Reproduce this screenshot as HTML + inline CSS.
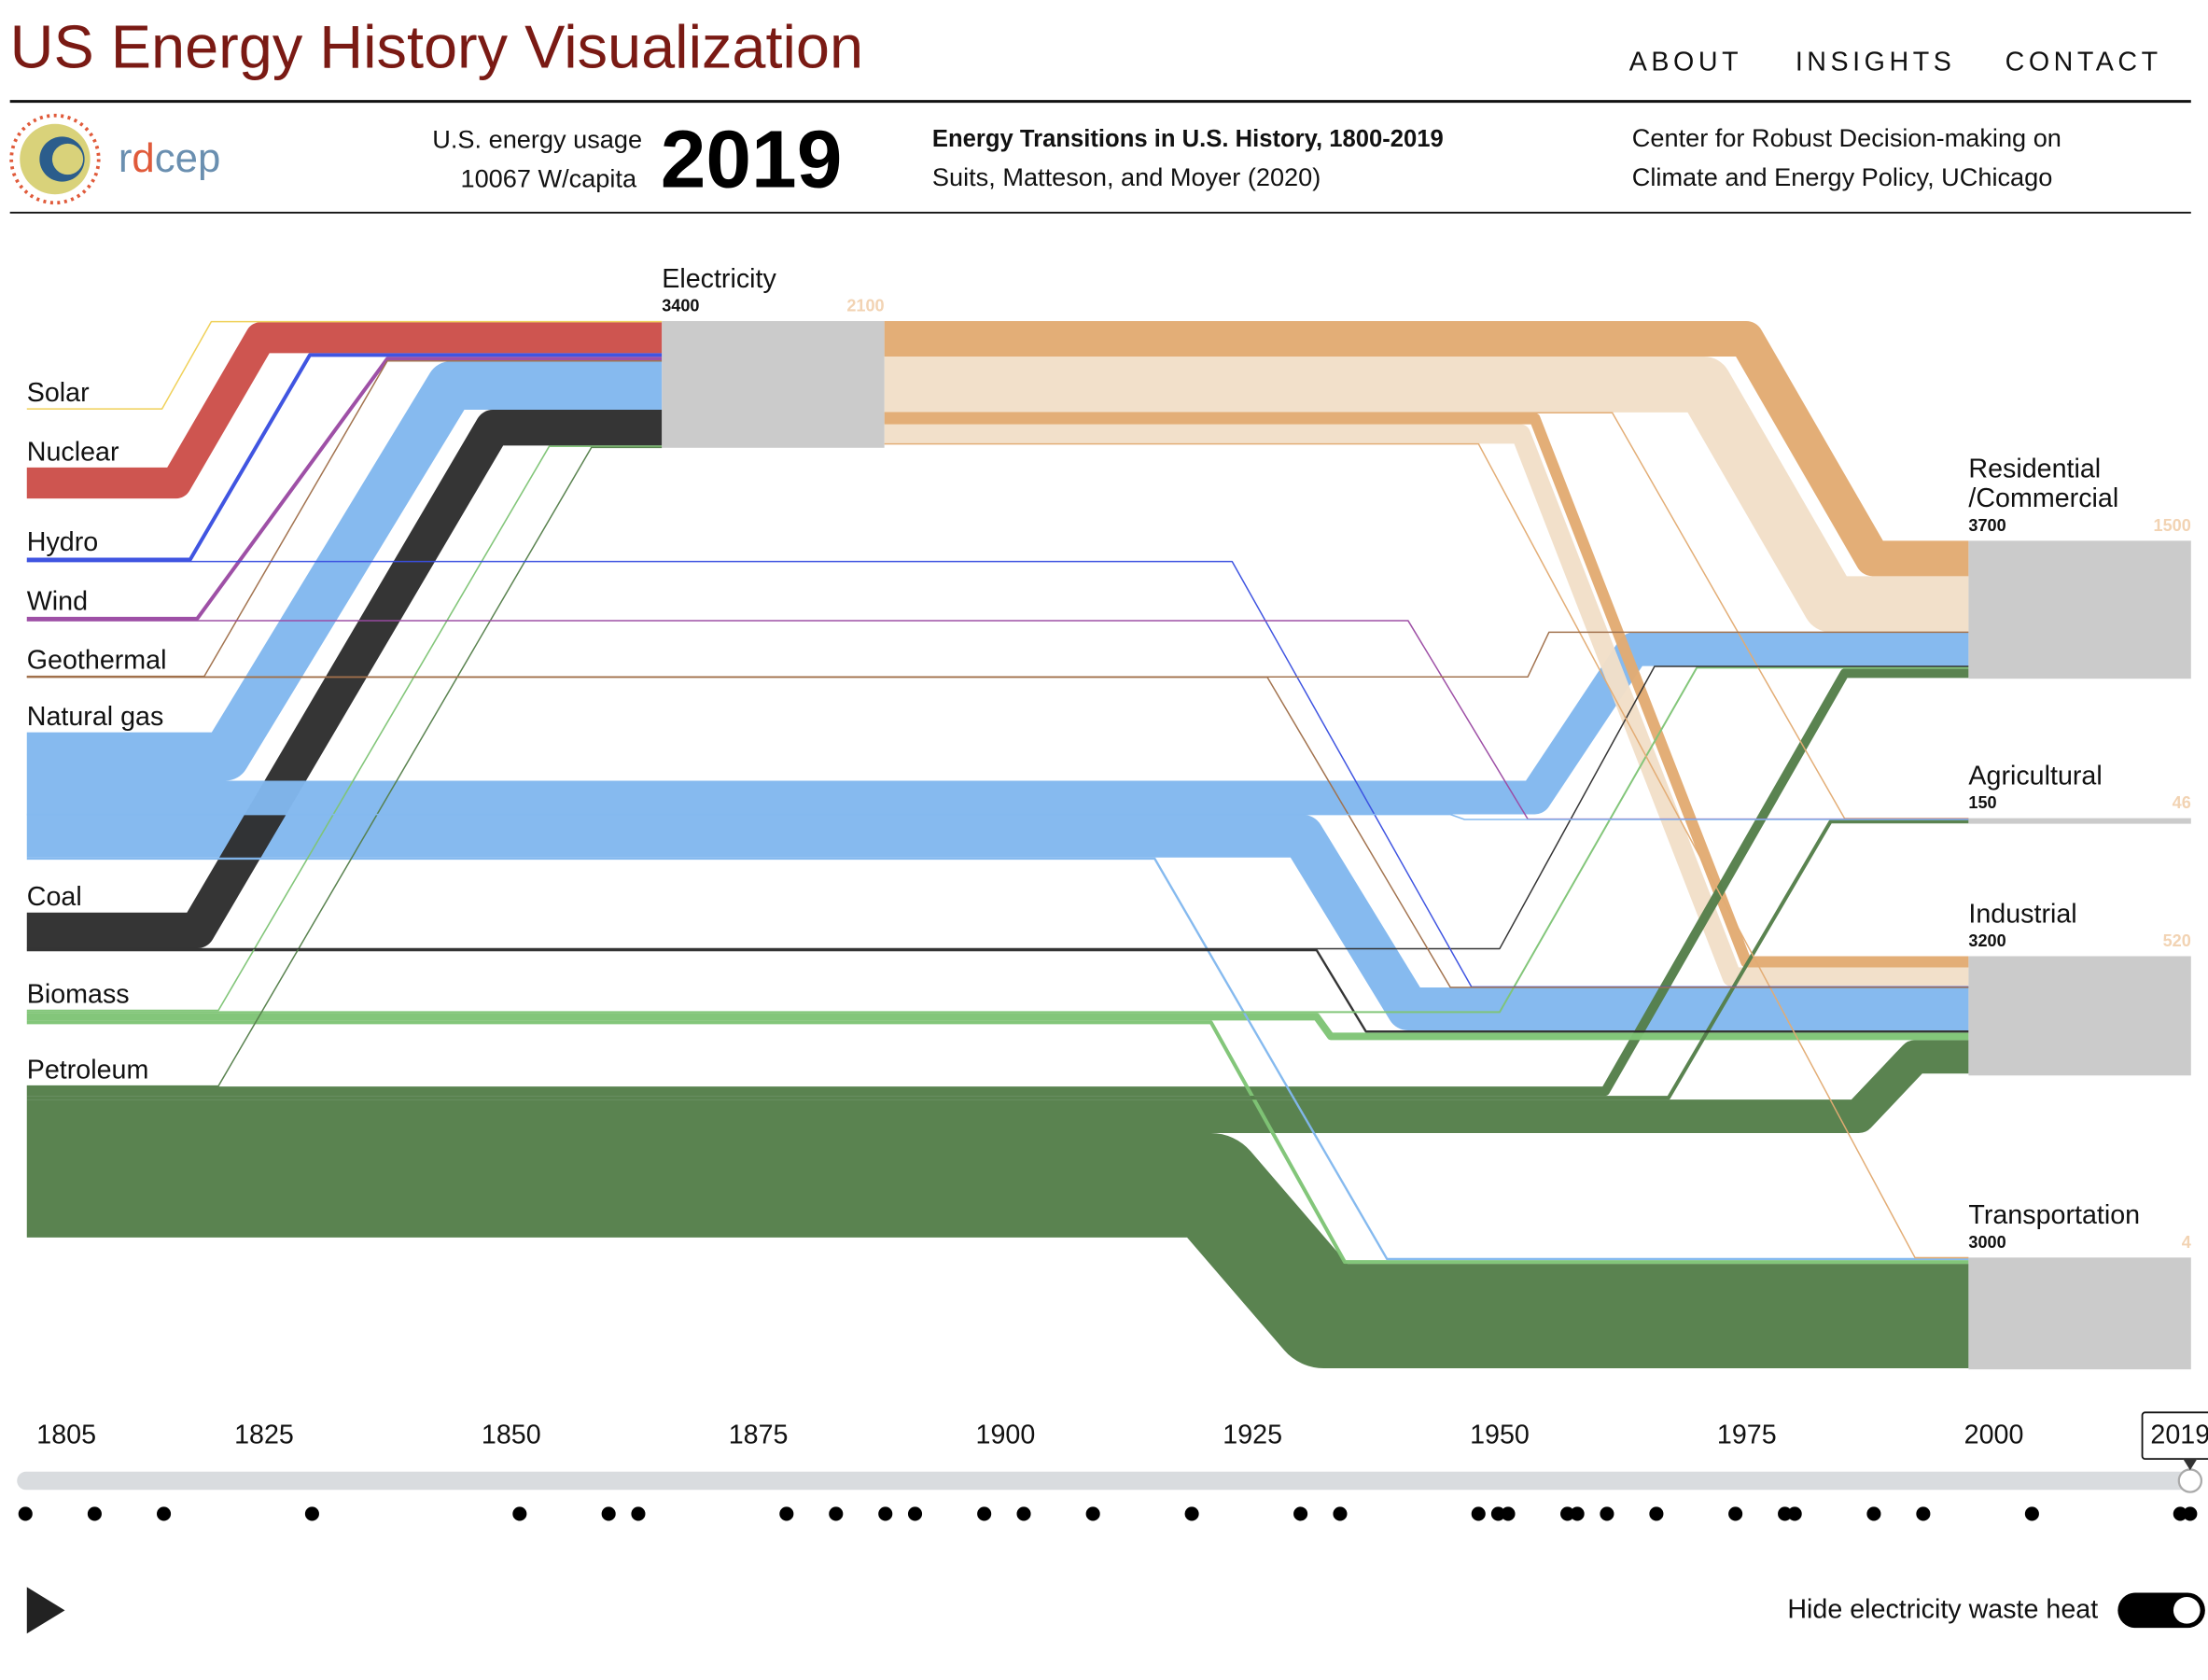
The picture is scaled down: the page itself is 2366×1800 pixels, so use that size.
<!DOCTYPE html>
<html><head><meta charset="utf-8"><style>
html,body{margin:0;padding:0;background:#fff;}
svg{display:block;font-family:"Liberation Sans",sans-serif;}
</style></head><body>
<svg id="chart" width="2366" height="1800" viewBox="0 0 1568 1193" xmlns="http://www.w3.org/2000/svg">
<g>
<text x="7" y="48" font-size="43" fill="#7a1a14">US Energy History Visualization</text>
<text x="1157" y="50" font-size="19" letter-spacing="3" fill="#111">ABOUT</text>
<text x="1275" y="50" font-size="19" letter-spacing="3" fill="#111">INSIGHTS</text>
<text x="1424" y="50" font-size="19" letter-spacing="3" fill="#111">CONTACT</text>
<line x1="7" y1="72" x2="1556" y2="72" stroke="#111" stroke-width="2"/>
<line x1="7" y1="151" x2="1556" y2="151" stroke="#111" stroke-width="1.2"/>
<g>
<circle cx="39" cy="113" r="31" fill="none" stroke="#e05a3a" stroke-width="2.5" stroke-dasharray="2 3"/>
<circle cx="39" cy="113" r="25" fill="#d9d27a"/>
<circle cx="44" cy="113" r="16" fill="#2b5d8c"/>
<circle cx="48" cy="113" r="11" fill="#d9d27a"/>
<text x="84" y="122" font-size="29" fill="#6a8fb0">r<tspan fill="#e05a3a">d</tspan>cep</text>
</g>
<text x="456" y="105" font-size="18" text-anchor="end" fill="#111">U.S. energy usage</text>
<text x="452" y="133" font-size="18" text-anchor="end" fill="#111">10067 W/capita</text>
<text x="469" y="133" font-size="58" font-weight="bold" fill="#000">2019</text>
<text x="662" y="104" font-size="17" font-weight="bold" fill="#111">Energy Transitions in U.S. History, 1800-2019</text>
<text x="662" y="132" font-size="18" fill="#111">Suits, Matteson, and Moyer (2020)</text>
<text x="1159" y="104" font-size="18" fill="#111">Center for Robust Decision-making on</text>
<text x="1159" y="132" font-size="18" fill="#111">Climate and Energy Policy, UChicago</text>
</g>
<g id="flows"></g>
<g id="nodes"></g>
<g id="timeline"></g>
<g>
<path d="M19 1127 L46 1143.5 L19 1160 Z" fill="#222"/>
<text x="1490" y="1149" font-size="19" text-anchor="end" fill="#111">Hide electricity waste heat</text>
<g>
<rect x="1504" y="1131" width="62" height="25" rx="12.5" fill="#000"/>
<circle cx="1553" cy="1143.5" r="9.5" fill="#fff"/>
</g>
</g>
</svg>
<script>
const NS='http://www.w3.org/2000/svg';
// ---- data ----
const sourceNames=['Solar','Nuclear','Hydro','Wind','Geothermal','Natural gas','Coal','Biomass','Petroleum'];
const targetNames=['Residential/Commercial','Agricultural','Industrial','Transportation'];
const targetTotals=[3700,150,3200,3000];
const targetWaste=[1500,46,520,4];
const elecTotal=3400, elecWaste=2100;
// flows: source (0-8 sources, 9 elec useful, 10 elec waste), target ('E',0..3), value
const flowSrc=[0,1,2,3,4,5,6,7,8, 9,10,9,9,10,9, 2,3,4,4,5,5,5,5,6,6,7,7,7,8,8,8,8];
const flowTgt=['E','E','E','E','E','E','E','E','E', 0,0,1,2,2,3, 2,1,0,2,0,1,2,3,0,2,0,2,3,0,1,2,3];
const flowVal=[30,830,100,100,20,1300,960,40,20, 950,1500,20,300,520,10, 10,10,10,10,900,10,1150,60,20,60,50,200,100,250,100,900,2800];
// layout (not data): bend x positions per flow
const bendA=[115,125,135,140,145,160,140,155,155, 1240,1210,1145,1090,1080,1050, 875,1000,1085,900,1090,1030,925,820,1065,935,1065,935,860,1140,1185,1320,860];
const bendB=[150,185,220,275,275,320,350,390,420, 1330,1300,1310,1240,1230,1360, 1045,1085,1100,1030,1160,1040,1000,985,1175,970,1205,945,955,1310,1300,1360,940];
const srcColors=['#f0cf55','#cc504a','#3a4fe0','#9b4aa3','#a0704a','#82b8ee','#2e2e2e','#7fc476','#557f4a','#e2ab73','#f2dfc8'];
const srcTops=[290,332,396,438,480,520,648,717,771];
const tgtTops=[384,581,679,893];
const K=90/elecTotal;
const X0=19,EIN=470,EOUT=628,ETOP=228,TIN=1398,TOUT=1556;

const flowsG=document.getElementById('flows');
const nodesG=document.getElementById('nodes');
function mk(tag,attrs,parent){const e=document.createElementNS(NS,tag);for(const k in attrs)e.setAttribute(k,attrs[k]);parent.appendChild(e);return e;}
const tgtRank=t=>t==='E'?0:t+1;
const srcRank=s=>s>=9?s-20:s;
const outNode=i=>flowSrc[i]>=9?'E':'S'+flowSrc[i];
const inNode=i=>flowTgt[i]==='E'?'E':'T'+flowTgt[i];
const topOf=n=>n==='E'?ETOP:n[0]==='S'?srcTops[+n.slice(1)]:tgtTops[+n.slice(1)];
const idx=flowVal.map((_,i)=>i);
const y0=[],y1=[];
const outOff={},inOff={};
idx.slice().sort((a,b)=>tgtRank(flowTgt[a])-tgtRank(flowTgt[b])||flowSrc[a]-flowSrc[b]).forEach(i=>{
 const n=outNode(i);if(outOff[n]===undefined)outOff[n]=topOf(n);
 const w=flowVal[i]*K;y0[i]=outOff[n]+w/2;outOff[n]+=w;});
idx.slice().sort((a,b)=>srcRank(flowSrc[a])-srcRank(flowSrc[b])).forEach(i=>{
 const n=inNode(i);if(inOff[n]===undefined)inOff[n]=topOf(n);
 const w=flowVal[i]*K;y1[i]=inOff[n]+w/2;inOff[n]+=w;});
idx.slice().sort((a,b)=>flowVal[b]-flowVal[a]).forEach(i=>{
 const xs=flowSrc[i]>=9?EOUT:X0, xe=flowTgt[i]==='E'?EIN:TIN;
 const w=Math.max(flowVal[i]*K,1);
 const p=mk('path',{d:`M${xs} ${y0[i]} H${bendA[i]} L${bendB[i]} ${y1[i]} H${xe}`,fill:'none',stroke:srcColors[flowSrc[i]],'stroke-width':w,'stroke-linejoin':'round',opacity:0.97},flowsG);
 
 
});
// source labels
sourceNames.forEach((s,i)=>{
 const t=mk('text',{x:19,y:srcTops[i]-5,'font-size':19,fill:'#111'},nodesG);t.textContent=s;
 
 
});
// electricity node
const er=mk('rect',{x:EIN,y:ETOP,width:EOUT-EIN,height:elecTotal*K,fill:'#cbcbcb'},nodesG);


let t=mk('text',{x:470,y:204,'font-size':19,fill:'#111'},nodesG);t.textContent='Electricity';

t=mk('text',{x:470,y:221,'font-size':12,'font-weight':'bold',fill:'#111'},nodesG);t.textContent=elecTotal;

t=mk('text',{x:628,y:221,'font-size':12,'font-weight':'bold','text-anchor':'end',fill:'#f2d3b3'},nodesG);t.textContent=elecWaste;

// target nodes
targetNames.forEach((n,i)=>{
 const r=mk('rect',{x:TIN,y:tgtTops[i],width:TOUT-TIN,height:targetTotals[i]*K,fill:'#cbcbcb'},nodesG);
 
 
 const lines=i===0?['Residential','/Commercial']:[n];
 lines.forEach((l,j)=>{const tt=mk('text',{x:1398,y:tgtTops[i]-45+(lines.length===1?21:0)+j*21,'font-size':19,fill:'#111'},nodesG);tt.textContent=l;
  });
 const v=mk('text',{x:1398,y:tgtTops[i]-7,'font-size':12,'font-weight':'bold',fill:'#111'},nodesG);v.textContent=targetTotals[i];
 
 const w=mk('text',{x:1556,y:tgtTops[i]-7,'font-size':12,'font-weight':'bold','text-anchor':'end',fill:'#f2d3b3'},nodesG);w.textContent=targetWaste[i];
 
});
// timeline
const tickYears=[1805,1825,1850,1875,1900,1925,1950,1975,2000,2025];
const dataYears=[1800,1807,1814,1829,1850,1859,1862,1877,1882,1887,1890,1897,1901,1908,1918,1929,1933,1947,1949,1950,1956,1957,1960,1965,1973,1978,1979,1987,1992,2003,2018,2019];
const selectedYear=2019;
const tx=y=>18+(y-1800)*7.02;
const tl=document.getElementById('timeline');
tickYears.forEach(y=>{const e=mk('text',{x:tx(y)-6,y:1025,'font-size':19,'text-anchor':'middle',fill:'#111'},tl);e.textContent=y;
 });
const tr=mk('rect',{x:12,y:1045,width:1546,height:13,rx:6.5,fill:'#d9dcdf'},tl);

dataYears.forEach(y=>{const c=mk('circle',{cx:tx(y),cy:1075,r:5,fill:'#000'},tl);
 });
const kx=tx(selectedYear);
const kb=mk('circle',{cx:kx,cy:1051.5,r:8,fill:'#fff',stroke:'#aaa','stroke-width':1.5},tl);

const tip=mk('g',{},tl);

mk('rect',{x:kx-34,y:1003,width:54,height:33,fill:'#fff',stroke:'#111','stroke-width':1.2,rx:2},tip);
mk('path',{d:`M${kx-5} 1036 L${kx+5} 1036 L${kx} 1044 Z`,fill:'#333'},tip);
const tt=mk('text',{x:kx-7,y:1025,'font-size':19,'text-anchor':'middle',fill:'#111'},tip);tt.textContent=selectedYear;
</script>
</body></html>
